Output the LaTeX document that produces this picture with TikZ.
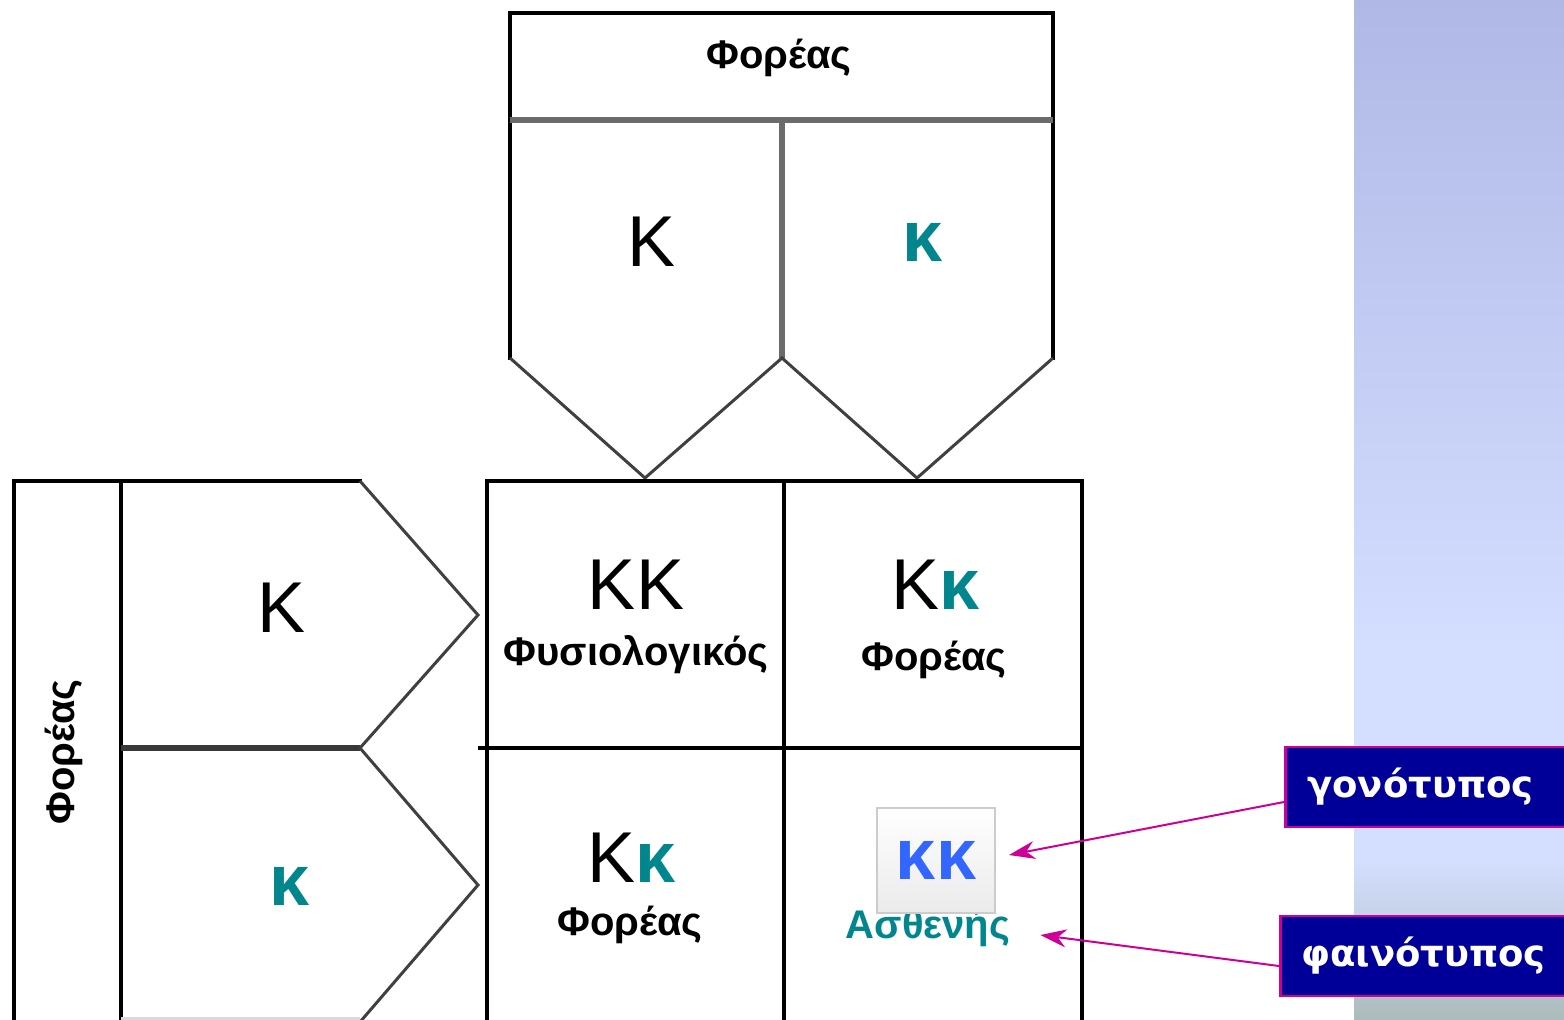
\documentclass[tikz,border=0pt]{standalone}
\usepackage{fontspec}
\setmainfont{Liberation Sans}
\newfontfamily\tagfont{DejaVu Sans}
\usepackage{tikz}
\usetikzlibrary{arrows.meta}

\definecolor{allele}{RGB}{0,134,140}
\definecolor{kkblue}{RGB}{51,102,255}
\definecolor{tagnavy}{RGB}{0,0,153}
\definecolor{tagrim}{RGB}{204,0,153}
\definecolor{panetop}{RGB}{176,184,230}
\definecolor{panemid}{RGB}{212,222,255}
\definecolor{panebot}{RGB}{172,188,188}

\tikzset{
  frame/.style={line width=4pt, black, line cap=rect},
  bar/.style={line width=6pt, color=black!58},
  slant/.style={line width=3pt, color=black!75, line join=miter},
  big/.style={font=\fontsize{72}{80}\selectfont, inner sep=0pt},
  small/.style={font=\fontsize{40}{44}\selectfont\bfseries, inner sep=0pt},
  tagbox/.style={draw=tagrim, fill=tagnavy, line width=2.5pt, text=white,
    font=\tagfont\fontsize{37}{42}\selectfont\bfseries, anchor=west,
    minimum height=80pt, text width=280pt, align=left, inner xsep=22pt},
  pointer/.style={draw=tagrim, line width=2pt, -{Stealth[length=26pt,width=18pt]}}
}

\begin{document}
\begin{tikzpicture}[x=1pt, y=-1pt]
\useasboundingbox (0,0) rectangle (1564,1020);
\clip (0,0) rectangle (1564,1020);

%%%%% side panel %%%%%
\shade[top color=panetop, bottom color=panemid] (1354,0) rectangle (1564,650);
\fill[panemid] (1354,649) rectangle (1564,861);
\shade[top color=panemid, bottom color=panebot] (1354,860) rectangle (1564,1020);

%%%%% father: header and two gametes %%%%%
\draw[frame] (510,358) -- (510,13) -- (1053,13) -- (1053,358);
\draw[bar] (510,120) -- (1053,120);
\draw[bar] (782,120) -- (782,358);
\draw[slant] (510,358) -- (645,478) -- (782,358) -- (917,478) -- (1053,358);
\node[small] (dad) at (779,58) {Φορέας};
\node[big] (dadK) at (652,242) {Κ};
\node[big, text=allele, font=\fontsize{72}{80}\selectfont\bfseries] (dadk) at (923,242) {κ};

%%%%% mother: header and two gametes %%%%%
\draw[frame] (360,481) -- (14,481) -- (14,1030);
\draw[frame] (121,481) -- (121,1030);
\draw[bar, color=black!78] (121,748) -- (360,748);
\draw[slant] (360,481) -- (478,615) -- (360,748) -- (478,885) -- (360,1022);
\draw[black!15, line width=3pt] (121,1018) -- (360,1018);
\node[small, rotate=90] (mum) at (64,752) {Φορέας};
\node[big] (mumK) at (282,608) {Κ};
\node[big, text=allele, font=\fontsize{72}{80}\selectfont\bfseries] (mumk) at (290,886) {κ};

%%%%% offspring grid %%%%%
\draw[frame] (487,1030) -- (487,481) -- (1082,481) -- (1082,1030);
\draw[frame] (784,481) -- (784,1030);
\draw[frame] (480,748) -- (1082,748);

\node[big] (aa) at (636,585) {ΚΚ};
\node[small] (aatxt) at (636,655) {Φυσιολογικός};
\node[big] (ab) at (936,585) {Κ\textcolor{allele}{\bfseries κ}};
\node[small] (abtxt) at (934,660) {Φορέας};
\node[big] (ba) at (632,858) {Κ\textcolor{allele}{\bfseries κ}};
\node[small] (batxt) at (630,925) {Φορέας};
\node[small, text=allele] (sick) at (928,928) {Ασθενής};
\node[draw=black!20, line width=2pt, top color=white, bottom color=black!8,
  minimum width=118pt, minimum height=105pt, inner sep=0pt,
  text=kkblue, font=\fontsize{72}{80}\selectfont\bfseries] (kkbox) at (936,860) {κκ};

%%%%% labels %%%%%
\node[tagbox] (geno) at (1284,787) {γονότυπος};
\node[tagbox, inner xsep=21pt] (pheno) at (1279,956) {φαινότυπος};
\draw[pointer] ([yshift=-15pt]geno.west) -- ([xshift=13pt,yshift=5pt]kkbox.east);
\draw[pointer] ([yshift=-10pt]pheno.west) -- ([xshift=30pt,yshift=-7pt]sick.east);
\end{tikzpicture}
\end{document}
